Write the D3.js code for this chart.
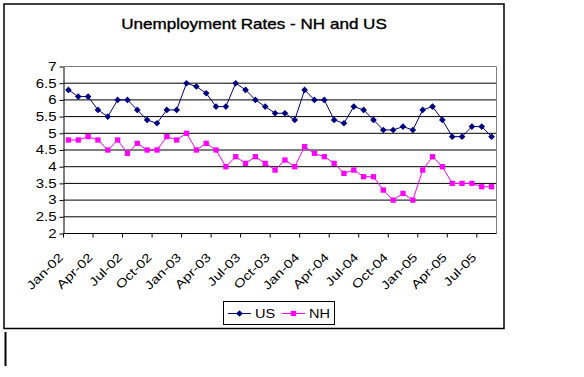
<!DOCTYPE html>
<html>
<head>
<meta charset="utf-8">
<script src="https://cdn.jsdelivr.net/npm/d3@7"></script>
<style>
  body { margin: 0; background: #fff; }
  svg { display: block; }
</style>
</head>
<body>
<div id="chart"><svg></svg></div>
<script>
const months = [
  "Jan-02","Feb-02","Mar-02","Apr-02","May-02","Jun-02","Jul-02","Aug-02","Sep-02","Oct-02","Nov-02","Dec-02",
  "Jan-03","Feb-03","Mar-03","Apr-03","May-03","Jun-03","Jul-03","Aug-03","Sep-03","Oct-03","Nov-03","Dec-03",
  "Jan-04","Feb-04","Mar-04","Apr-04","May-04","Jun-04","Jul-04","Aug-04","Sep-04","Oct-04","Nov-04","Dec-04",
  "Jan-05","Feb-05","Mar-05","Apr-05","May-05","Jun-05","Jul-05","Aug-05"
];
const usRate = [
  6.3, 6.1, 6.1, 5.7, 5.5, 6.0, 6.0, 5.7, 5.4, 5.3, 5.7, 5.7,
  6.5, 6.4, 6.2, 5.8, 5.8, 6.5, 6.3, 6.0, 5.8, 5.6, 5.6, 5.4,
  6.3, 6.0, 6.0, 5.4, 5.3, 5.8, 5.7, 5.4, 5.1, 5.1, 5.2, 5.1,
  5.7, 5.8, 5.4, 4.9, 4.9, 5.2, 5.2, 4.9
];
const nhRate = [
  4.8, 4.8, 4.9, 4.8, 4.5, 4.8, 4.4, 4.7, 4.5, 4.5, 4.9, 4.8,
  5.0, 4.5, 4.7, 4.5, 4.0, 4.3, 4.1, 4.3, 4.1, 3.9, 4.2, 4.0,
  4.6, 4.4, 4.3, 4.1, 3.8, 3.9, 3.7, 3.7, 3.3, 3.0, 3.2, 3.0,
  3.9, 4.3, 4.0, 3.5, 3.5, 3.5, 3.4, 3.4
];
const tickLabels = ["Jan-02","Apr-02","Jul-02","Oct-02","Jan-03","Apr-03","Jul-03","Oct-03",
  "Jan-04","Apr-04","Jul-04","Oct-04","Jan-05","Apr-05","Jul-05"];
const yTicks = [2, 2.5, 3, 3.5, 4, 4.5, 5, 5.5, 6, 6.5, 7];
const seriesNames = ["US", "NH"];

const width = 584, height = 377;
const font = "'Liberation Sans', Arial, sans-serif";
const sx = 1.25; // the original text renders wider than Arial

const svg = d3.select("#chart svg").attr("width", width).attr("height", height);

// chart frame
svg.append("rect")
  .attr("x", 4).attr("y", 4).attr("width", 500).attr("height", 324.5)
  .attr("fill", "#fff").attr("stroke", "#000").attr("stroke-width", 1.5);

svg.append("text")
  .attr("transform", "translate(254,29) scale(1.22,1)")
  .attr("text-anchor", "middle")
  .style("font-family", font).style("font-size", "14px")
  .style("stroke", "#000").style("stroke-width", 0.35)
  .text("Unemployment Rates - NH and US");

const x = d3.scaleBand().domain(months).range([63.5, 496.5]).padding(0);
const y = d3.scaleLinear().domain([2, 7]).range([233.5, 66.5]);
const cx = (m) => x(m) + x.bandwidth() / 2;

const g = svg.append("g");

// gridlines
g.selectAll("line.grid")
  .data(yTicks.filter((v) => v > 2 && v < 7))
  .enter().append("line")
  .attr("x1", x.range()[0]).attr("x2", x.range()[1])
  .attr("y1", (d) => y(d)).attr("y2", (d) => y(d))
  .style("stroke", "#000").style("stroke-width", 1);

// top + right border of plot area
g.append("path")
  .attr("d", `M${x.range()[0]},${y(7)}H${x.range()[1]}V${y(2)}`)
  .attr("fill", "none").style("stroke", "#808080").style("stroke-width", 1);

// y axis
const yAxis = g.append("g")
  .attr("transform", `translate(${x.range()[0]},0)`)
  .style("font-family", font).style("font-size", "12px")
  .call(d3.axisLeft(y).tickValues(yTicks).tickSize(4).tickSizeOuter(0).tickFormat(d3.format("")));
yAxis.selectAll("text")
  .attr("x", -7 / sx)
  .attr("transform", `scale(${sx},1)`)
  .attr("fill", "#000");

// x axis
g.append("line")
  .attr("x1", x.range()[0]).attr("x2", x.range()[1])
  .attr("y1", y(2)).attr("y2", y(2))
  .style("stroke", "#000");
g.selectAll("line.xtick")
  .data(tickLabels)
  .enter().append("line")
  .attr("x1", (d) => x(d)).attr("x2", (d) => x(d))
  .attr("y1", y(2)).attr("y2", y(2) + 4)
  .style("stroke", "#000");
g.selectAll("text.xlabel")
  .data(tickLabels)
  .enter().append("text")
  .attr("text-anchor", "end")
  .attr("transform", (d) => `translate(${cx(d) - 4.5},258) rotate(-45) scale(${sx},1)`)
  .style("font-family", font).style("font-size", "12px")
  .text((d) => d);

// series
const series = [
  { name: seriesNames[0], values: usRate, color: "#000080", symbol: d3.symbolSquare, size: 22, rot: 45 },
  { name: seriesNames[1], values: nhRate, color: "#ff00ff", symbol: d3.symbolSquare, size: 28, rot: 0 }
];

const line = d3.line()
  .x((d, i) => cx(months[i]))
  .y((d) => y(d));

series.forEach((s) => {
  g.append("path")
    .datum(s.values)
    .attr("fill", "none")
    .attr("stroke", s.color)
    .attr("stroke-width", 1)
    .attr("d", line);

  g.selectAll(null)
    .data(s.values)
    .enter().append("path")
    .attr("d", d3.symbol(s.symbol, s.size))
    .attr("transform", (d, i) => `translate(${cx(months[i])},${y(d)}) rotate(${s.rot})`)
    .attr("fill", s.color);
});

// legend
const legend = svg.append("g");
legend.append("rect")
  .attr("x", 223.5).attr("y", 301.5).attr("width", 111).attr("height", 23)
  .attr("fill", "#fff").attr("stroke", "#000").attr("stroke-width", 1);

const legendX = [228, 282];
series.forEach((s, i) => {
  const lx = legendX[i];
  legend.append("line")
    .attr("x1", lx).attr("x2", lx + 23)
    .attr("y1", 313.5).attr("y2", 313.5)
    .style("stroke", s.color);
  legend.append("path")
    .attr("d", d3.symbol(s.symbol, s.size))
    .attr("transform", `translate(${lx + 11.5},313.5) rotate(${s.rot})`)
    .attr("fill", s.color);
  legend.append("text")
    .attr("transform", `translate(${lx + 27},318) scale(1.12,1)`)
    .style("font-family", font).style("font-size", "13px")
    .text(s.name);
});

// stray text cursor under the chart
svg.append("line")
  .attr("x1", 5.5).attr("x2", 5.5)
  .attr("y1", 332).attr("y2", 366)
  .style("stroke", "#000").style("stroke-width", 2);
</script>
</body>
</html>
